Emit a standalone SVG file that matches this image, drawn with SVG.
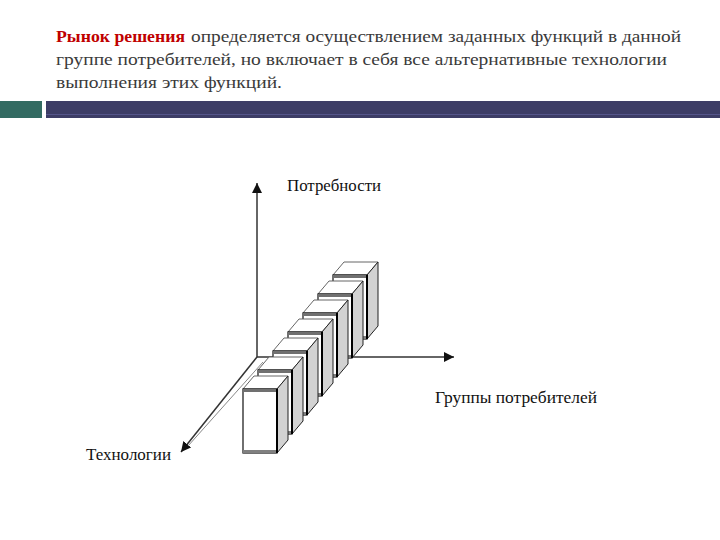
<svg xmlns="http://www.w3.org/2000/svg" xmlns:xlink="http://www.w3.org/1999/xlink" width="720" height="540" viewBox="0 0 720 540">
<style>
.body{font-size:17px;fill:#3a3a3a}
.lbl{font-size:17px;fill:#111}
.axis{stroke:#333;stroke-width:1.5;fill:none}
</style>
<defs>
<marker id="ah" viewBox="0 0 10 10" refX="10" refY="5" markerWidth="10" markerHeight="10" markerUnits="userSpaceOnUse" orient="auto">
<path d="M0,0 L10,5 L0,10 z" fill="#111"/>
</marker>
<g id="box">
<polygon points="0,0 11,-13 45,-13 34,0" fill="#fff" stroke="#666" stroke-width="1"/>
<polygon points="34,0 45,-13 45,51 34,64" fill="#d2d2d2" stroke="#222" stroke-width="1"/>
<rect x="0" y="0" width="34" height="64" fill="#fff" stroke="#111" stroke-width="1.2"/>
<rect x="0" y="0" width="34" height="3" fill="#707070"/>
<rect x="0" y="61" width="34" height="3" fill="#808080"/>
<line x1="34" y1="0" x2="34" y2="64" stroke="#000" stroke-width="2"/>
</g>
</defs>
<rect width="720" height="540" fill="#fff"/>
<g id="header">
<rect x="0" y="101" width="42" height="17" fill="#336b62"/>
<rect x="46" y="101" width="674" height="17" fill="#3d3d66"/>
<rect x="46" y="114" width="674" height="1" fill="#55558a"/>
</g>
<g id="title">
<text x="56" y="42" font-family="Liberation Serif, DejaVu Serif, serif" font-size="17" font-weight="bold" fill="#c00000" textLength="129" lengthAdjust="spacingAndGlyphs">Рынок решения</text>
<text class="body" x="191" y="42" font-family="Liberation Serif, DejaVu Serif, serif" textLength="490" lengthAdjust="spacingAndGlyphs">определяется осуществлением заданных функций в данной</text>
<text class="body" x="56" y="65" font-family="Liberation Serif, DejaVu Serif, serif" textLength="611" lengthAdjust="spacingAndGlyphs">группе потребителей, но включает в себя все альтернативные технологии</text>
<text class="body" x="56" y="88" font-family="Liberation Serif, DejaVu Serif, serif" textLength="226" lengthAdjust="spacingAndGlyphs">выполнения этих функций.</text>
</g>
<g id="connectors">
<line class="axis" x1="257" y1="357" x2="257" y2="183" marker-end="url(#ah)"/>
<line class="axis" x1="257" y1="357" x2="454" y2="357" marker-end="url(#ah)"/>
<line class="axis" x1="257" y1="357" x2="181" y2="452" marker-end="url(#ah)"/>
<line x1="263" y1="362" x2="188" y2="446" stroke="#888" stroke-width="1"/>
</g>
<g id="box7" transform="translate(333,275)"><use xlink:href="#box"/></g>
<g id="box6" transform="translate(318,294)"><use xlink:href="#box"/></g>
<g id="box5" transform="translate(303,313)"><use xlink:href="#box"/></g>
<g id="box4" transform="translate(288,332)"><use xlink:href="#box"/></g>
<g id="box3" transform="translate(273,351)"><use xlink:href="#box"/></g>
<g id="box2" transform="translate(258,370)"><use xlink:href="#box"/></g>
<g id="box1" transform="translate(243,389)"><use xlink:href="#box"/></g>
<g id="label-needs"><text class="lbl" x="287" y="191" font-family="Liberation Serif, Times New Roman, serif" textLength="94" lengthAdjust="spacingAndGlyphs">Потребности</text></g>
<g id="label-groups"><text class="lbl" x="435" y="403" font-family="Liberation Serif, Times New Roman, serif" textLength="162" lengthAdjust="spacingAndGlyphs">Группы потребителей</text></g>
<g id="label-tech"><text class="lbl" x="86" y="460" font-family="Liberation Serif, Times New Roman, serif" textLength="85" lengthAdjust="spacingAndGlyphs">Технологии</text></g>
</svg>
